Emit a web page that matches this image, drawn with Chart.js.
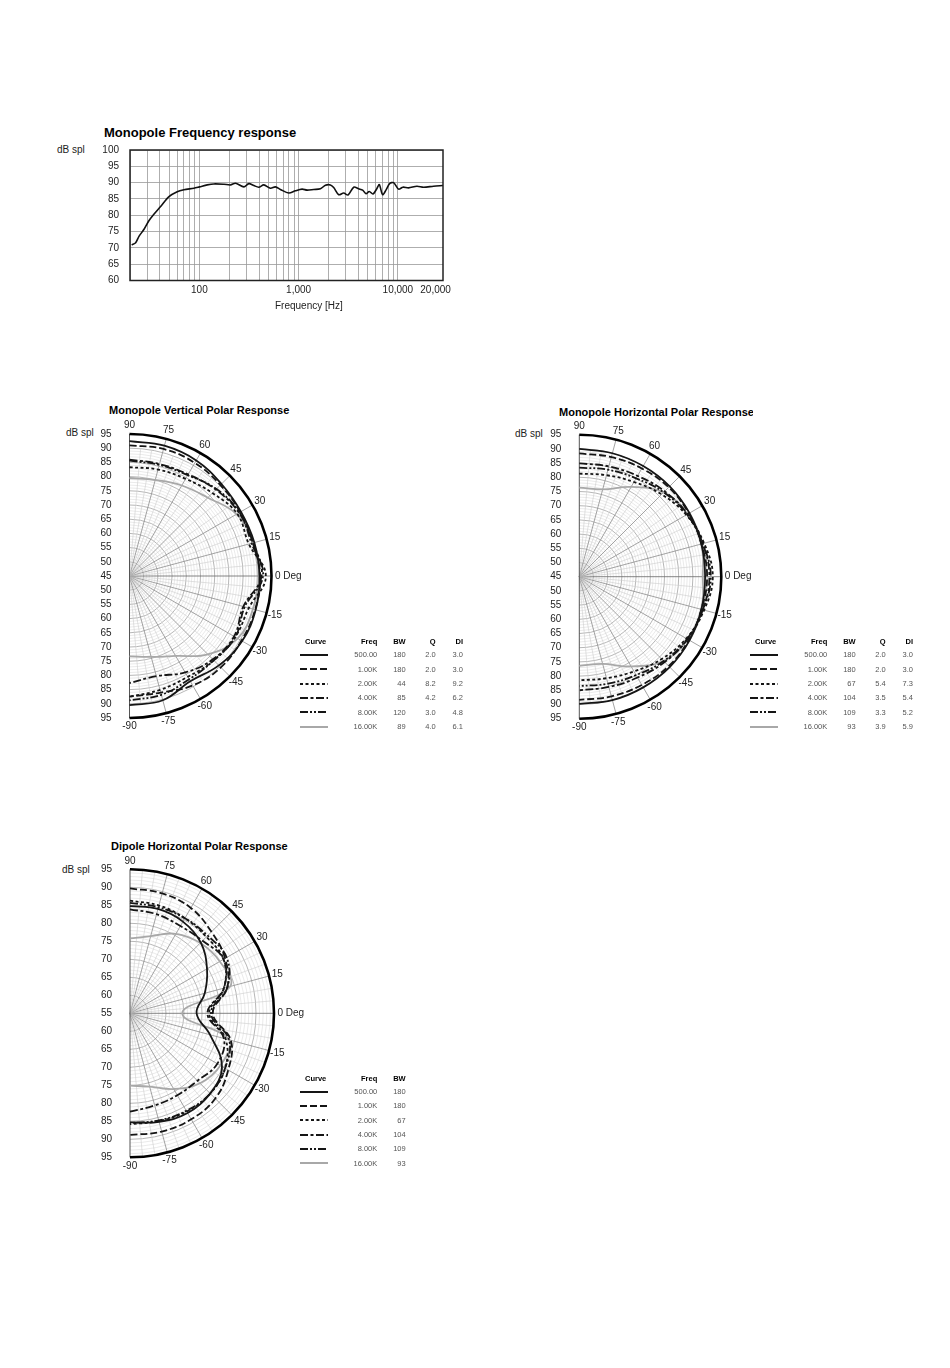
<!DOCTYPE html>
<html lang="en">
<head>
<meta charset="UTF-8">
<title>Monopole / Dipole Response</title>
<script src="https://cdn.jsdelivr.net/npm/chart.js"></script>
<style>
    body { margin: 0; background: #fff; font-family: 'Liberation Sans', Arial, sans-serif; color: #111; }
    .page { position: relative; width: 950px; height: 1368px; overflow: hidden; }
    .abs { position: absolute; white-space: nowrap; line-height: 1; }
    .title { font-weight: bold; font-size: 11px; color: #000; }
    .unit { font-size: 10px; color: #222; }
    canvas { position: absolute; }
    .lg-head { font-weight: bold; font-size: 7.5px; color: #000; }
    .lg-val { font-size: 7.5px; color: #555; }
</style>
</head>
<body>
<div class="page" id="page">
    <!-- frequency response -->
    <div class="abs title" style="left:104px;top:126px;font-size:13px">Monopole Frequency response</div>
    <div class="abs unit" style="left:57px;top:145px">dB spl</div>
    <canvas id="freqChart" width="420" height="187" style="left:50px;top:133px"></canvas>
    <div class="abs unit" style="left:275px;top:301px">Frequency [Hz]</div>

    <!-- vertical polar -->
    <div class="abs title" style="left:109px;top:405px">Monopole Vertical Polar Response</div>
    <div class="abs unit" style="left:66px;top:428px">dB spl</div>
    <canvas id="vertChart" width="255" height="325" style="left:55px;top:418px"></canvas>

    <!-- horizontal polar -->
    <div class="abs title" style="left:559px;top:407px;width:194px;overflow:hidden">Monopole Horizontal Polar Response</div>
    <div class="abs unit" style="left:515px;top:429px">dB spl</div>
    <canvas id="horzChart" width="255" height="325" style="left:505px;top:418px"></canvas>

    <!-- dipole polar -->
    <div class="abs title" style="left:111px;top:841px">Dipole Horizontal Polar Response</div>
    <div class="abs unit" style="left:62px;top:865px">dB spl</div>
    <canvas id="dipoleChart" width="255" height="327" style="left:55px;top:853px"></canvas>
</div>

<script>
    const FONT = "'Liberation Sans', Arial, sans-serif";

    // ---- frequency response data ----
    const freqHz = [20.8, 22.8, 24.7, 27.7, 31, 34.8, 40.7, 49.4, 59.8, 69.8,
        88, 100, 120, 140, 177, 206, 231, 281, 315, 354,
        397, 446, 520, 584, 656, 796, 929, 1084, 1217, 1420,
        1657, 1862, 2089, 2256, 2535, 2844, 3147, 3590, 4028, 4418,
        4775, 5154, 5612, 6152, 6498, 7019, 7584, 8260, 9059, 10170,
        11240, 12820, 15550, 18150, 22870, 28380];
    const splDb = [70.9, 71.6, 73.6, 75.7, 78.3, 80.3, 82.7, 85.7, 87.2, 87.8,
        88.3, 88.7, 89.3, 89.6, 89.5, 89.3, 89.8, 88.7, 89.7, 89.1,
        88.6, 89.3, 88.3, 88.7, 87.9, 86.8, 87.5, 88.0, 87.7, 87.9,
        88.1, 89.2, 89.3, 88.5, 86.3, 86.8, 86.2, 88.6, 88.1, 87.7,
        86.6, 87.3, 86.5, 88.2, 89.4, 86.3, 87.7, 89.7, 90.0, 88.0,
        88.6, 88.4, 88.9, 88.6, 88.9, 89.1];
    const freqGrid = [20, 30, 40, 50, 60, 70, 80, 90,
        100, 200, 300, 400, 500, 600, 700, 800, 900,
        1000, 2000, 3000, 4000, 5000, 6000, 7000, 8000, 9000, 10000];
    // the last label sits a little inside the right border in the original
    const freqTickValues = [100, 1000, 10000, 24000];
    const freqTickText = ['100', '1,000', '10,000', '20,000'];

    // ---- polar data (dB spl at each angle) ----
    const polarAngles = [90, 75, 60, 45, 30, 15, 0, -15, -30, -45, -60, -75, -90];
    const curveFreqs = ['500.00', '1.00K', '2.00K', '4.00K', '8.00K', '16.00K'];

    // monopole vertical
    const mv500 = [92.5, 92.5, 92.0, 90.8, 90.3, 90.5, 90.8, 91.0, 90.8, 89.5, 87.8, 90.3, 90.5];
    const mv1k  = [91.0, 91.3, 91.0, 90.3, 90.0, 90.0, 91.0, 90.8, 90.5, 90.5, 89.5, 87.5, 87.5];
    const mv2k  = [83.3, 83.8, 84.5, 86.3, 88.8, 88.5, 93.0, 88.5, 88.0, 87.0, 86.0, 86.5, 87.5];
    const mv4k  = [86.0, 85.8, 86.3, 88.0, 89.5, 90.0, 91.5, 86.5, 87.5, 86.5, 84.2, 81.5, 82.7];
    const mv8k  = [85.6, 85.5, 86.0, 88.3, 89.7, 89.5, 92.0, 87.0, 88.0, 87.0, 87.0, 88.3, 88.8];
    const mv16k = [79.5, 80.0, 81.8, 84.0, 88.5, 90.0, 90.5, 90.0, 89.0, 84.0, 77.5, 74.5, 73.3];
    const vertBW = [180, 180, 44, 85, 120, 89];
    const vertQ  = [2.0, 2.0, 8.2, 4.2, 3.0, 4.0];
    const vertDI = [3.0, 3.0, 9.2, 6.2, 4.8, 6.1];

    // monopole horizontal
    const mh500 = [90.0, 90.0, 90.0, 90.0, 89.8, 89.5, 89.3, 89.5, 89.8, 90.0, 90.0, 90.0, 89.8];
    const mh1k  = [88.4, 88.6, 89.0, 89.5, 89.5, 89.5, 90.0, 89.5, 89.5, 89.5, 89.0, 88.6, 88.4];
    const mh2k  = [81.3, 82.0, 83.5, 86.0, 88.5, 90.5, 92.0, 90.5, 88.5, 86.0, 83.5, 82.0, 81.5];
    const mh4k  = [84.9, 85.2, 86.0, 87.5, 89.0, 90.0, 90.8, 90.0, 89.0, 87.5, 86.0, 85.2, 85.0];
    const mh8k  = [83.4, 84.0, 85.0, 87.0, 88.8, 90.0, 91.3, 90.0, 88.8, 87.0, 85.0, 84.0, 83.5];
    const mh16k = [76.4, 76.8, 81.5, 87.0, 89.0, 89.5, 88.5, 89.5, 89.0, 87.0, 81.5, 76.8, 76.4];
    const horzBW = [180, 180, 67, 104, 109, 93];
    const horzQ  = [2.0, 2.0, 5.4, 3.5, 3.3, 3.9];
    const horzDI = [3.0, 3.0, 7.3, 5.4, 5.2, 5.9];

    // dipole horizontal
    const dp500 = [84.8, 85.0, 84.4, 82.8, 79.7, 76.5, 73.5, 78.0, 84.5, 86.5, 87.0, 86.2, 85.3];
    const dp1k  = [89.7, 89.5, 88.8, 87.0, 85.5, 83.0, 78.0, 84.0, 86.5, 88.5, 89.0, 89.0, 88.8];
    const dp2k  = [86.3, 86.0, 85.5, 85.0, 85.0, 82.0, 77.0, 82.5, 85.5, 86.5, 86.5, 86.0, 85.8];
    const dp4k  = [83.9, 83.5, 83.0, 83.5, 85.0, 82.0, 76.5, 82.0, 83.0, 81.5, 81.3, 81.5, 82.3];
    const dp8k  = [85.7, 85.5, 85.5, 85.5, 86.0, 83.0, 77.5, 83.5, 85.5, 86.5, 86.3, 85.8, 85.5];
    const dp16k = [75.8, 77.2, 80.5, 82.6, 83.8, 83.8, 69.5, 83.5, 84.0, 82.5, 79.3, 76.1, 75.1];
    const dipoleBW = [180, 180, 67, 104, 109, 93];

    // curve styles
    const curveColors = ['#151515', '#151515', '#151515', '#151515', '#151515', '#a8a8a8'];
    const curveDashes = [[], [7, 3], [3, 2.5], [8, 2.5, 3, 2.5], [8, 2, 2, 2, 2, 2], []];

    // frame around the frequency plot
    const frame = {
        id: 'frame',
        beforeDatasetsDraw(chart) {
            const { ctx, chartArea: a } = chart;
            ctx.save();
            ctx.strokeStyle = '#222';
            ctx.lineWidth = 1.5;
            ctx.strokeRect(a.left, a.top, a.right - a.left, a.bottom - a.top);
            ctx.restore();
        }
    };

    new Chart(document.getElementById('freqChart'), {
        type: 'scatter',
        data: {
            datasets: [{
                data: freqHz.map((f, i) => ({ x: f, y: splDb[i] })),
                showLine: true, borderColor: '#111', borderWidth: 1.6,
                pointRadius: 0, tension: 0.3
            }]
        },
        options: {
            responsive: false,
            animation: false,
            layout: { padding: { left: 50, top: 17, right: 27, bottom: 0 } },
            plugins: { legend: { display: false }, tooltip: { enabled: false } },
            scales: {
                x: {
                    type: 'logarithmic', min: 20, max: 28500,
                    afterBuildTicks: s => { s.ticks = freqGrid.concat([24000]).map(v => ({ value: v })); },
                    afterFit: s => { s.height = 39.5; },
                    grid: {
                        color: c => (c.tick && c.tick.value === 24000) ? 'rgba(0,0,0,0)' : '#999',
                        lineWidth: 0.8, drawTicks: false
                    },
                    border: { display: false },
                    ticks: {
                        autoSkip: false, maxRotation: 0, minRotation: 0, padding: 4,
                        color: '#222', font: { size: 10, family: FONT },
                        callback: v => {
                            const i = freqTickValues.indexOf(v);
                            return i < 0 ? '' : freqTickText[i];
                        }
                    }
                },
                y: {
                    min: 60, max: 100,
                    afterFit: s => { s.width = 30; },
                    grid: { color: '#999', lineWidth: 0.8, drawTicks: false },
                    border: { display: false },
                    ticks: { stepSize: 5, padding: 11, color: '#222', font: { size: 10, family: FONT } }
                }
            }
        },
        plugins: [frame]
    });

    // half-circle polar grid drawn behind the curves
    const polarGrid = {
        id: 'polarGrid',
        beforeDatasetsDraw(chart, args, o) {
            const { ctx, scales: { x, y } } = chart;
            const cx = x.getPixelForValue(0), cy = y.getPixelForValue(0);
            const k = x.getPixelForValue(1) - cx;
            const R = o.span * k;
            const gTop = (o.gridTop - o.rMin) * k;
            ctx.save();
            // rings every 1 dB, darker every 5 dB
            for (let d = 1; d <= o.gridTop - o.rMin; d++) {
                const major = (d + o.rMin) % 5 === 0;
                ctx.beginPath();
                ctx.arc(cx, cy, d * k, -Math.PI / 2, Math.PI / 2);
                ctx.strokeStyle = major ? '#a5a5a5' : '#dcdcdc';
                ctx.lineWidth = major ? 0.8 : 0.6;
                ctx.stroke();
            }
            // spokes every 5 deg, darker every 15 deg
            for (let a = -85; a <= 85; a += 5) {
                const t = -a * Math.PI / 180;
                const major = a % 15 === 0;
                const len = major ? R : gTop;
                ctx.beginPath();
                ctx.moveTo(cx, cy);
                ctx.lineTo(cx + len * Math.cos(t), cy + len * Math.sin(t));
                ctx.strokeStyle = a === 0 ? '#666' : (major ? '#8c8c8c' : '#cdcdcd');
                ctx.lineWidth = major ? 0.8 : 0.6;
                ctx.stroke();
            }
            // left axis
            ctx.beginPath();
            ctx.moveTo(cx, cy - R);
            ctx.lineTo(cx, cy + R);
            ctx.strokeStyle = '#555';
            ctx.lineWidth = 1;
            ctx.stroke();
            // outer rim
            ctx.beginPath();
            ctx.arc(cx, cy, R, -Math.PI / 2, Math.PI / 2);
            ctx.strokeStyle = '#000';
            ctx.lineWidth = 2.6;
            ctx.stroke();
            // angle labels
            ctx.fillStyle = '#222';
            ctx.font = '10px ' + FONT;
            ctx.textBaseline = 'middle';
            polarAngles.forEach(a => {
                const t = -a * Math.PI / 180;
                if (a === 0) {
                    ctx.textAlign = 'left';
                    ctx.fillText('0 Deg', cx + R + 3.5, cy);
                } else {
                    ctx.textAlign = 'center';
                    const r = R + 8.5;
                    ctx.fillText(String(a), cx + r * Math.cos(t), cy + r * Math.sin(t));
                }
            });
            ctx.restore();
        }
    };

    function polarChart(id, cx, cy, R, rMin, rMax, gridTop, dbSeries) {
        const cv = document.getElementById(id);
        const span = rMax - rMin;
        const rad = Math.PI / 180;
        new Chart(cv, {
            type: 'scatter',
            data: {
                datasets: dbSeries.map((db, s) => ({
                    data: polarAngles.map((a, i) => ({
                        x: (db[i] - rMin) * Math.cos(a * rad),
                        y: (db[i] - rMin) * Math.sin(a * rad)
                    })),
                    showLine: true,
                    borderColor: curveColors[s],
                    borderWidth: 1.8,
                    borderDash: curveDashes[s],
                    pointRadius: 0,
                    tension: 0.4,
                    clip: false
                }))
            },
            options: {
                responsive: false,
                animation: false,
                layout: { padding: { left: cx - 30, top: cy - R, right: cv.width - cx - R, bottom: cv.height - cy - R } },
                plugins: {
                    legend: { display: false },
                    tooltip: { enabled: false },
                    polarGrid: { rMin: rMin, span: span, gridTop: gridTop }
                },
                scales: {
                    x: { display: false, min: 0, max: span },
                    y: {
                        min: -span, max: span,
                        afterFit: sc => { sc.width = 30; },
                        grid: { display: false },
                        border: { display: false },
                        ticks: {
                            stepSize: 5, autoSkip: false, padding: 10,
                            color: '#222', font: { size: 10, family: FONT },
                            callback: v => Math.abs(v) + rMin
                        }
                    }
                }
            },
            plugins: [polarGrid]
        });
    }

    polarChart('vertChart', 74.5, 158, 142, 45, 95, 90, [mv500, mv1k, mv2k, mv4k, mv8k, mv16k]);
    polarChart('horzChart', 74.3, 158.7, 142, 45, 95, 90, [mh500, mh1k, mh2k, mh4k, mh8k, mh16k]);
    polarChart('dipoleChart', 75, 160.3, 144, 55, 95, 95, [dp500, dp1k, dp2k, dp4k, dp8k, dp16k]);

    // legend tables (HTML text)
    function legendTable(x0, yHead, bw, q, di) {
        const page = document.getElementById('page');
        const put = (text, cls, left, cy, w) => {
            const d = document.createElement('div');
            d.className = 'abs ' + cls;
            d.style.left = left + 'px';
            d.style.top = (cy - 3.7) + 'px';
            if (w) { d.style.width = w + 'px'; d.style.textAlign = 'right'; }
            d.textContent = text;
            page.appendChild(d);
        };
        const rowY = i => yHead + 13.5 + 14.3 * i;
        put('Curve', 'lg-head', x0 + 5, yHead);
        const cols = [['Freq', curveFreqs, 77.3], ['BW', bw, 105.7]];
        if (q) cols.push(['Q', q.map(v => v.toFixed(1)), 135.7]);
        if (di) cols.push(['DI', di.map(v => v.toFixed(1)), 163]);
        cols.forEach(([h, vals, r]) => {
            put(h, 'lg-head', x0 + r - 40, yHead, 40);
            vals.forEach((v, i) => put(String(v), 'lg-val', x0 + r - 40, rowY(i), 40));
        });
        curveDashes.forEach((d, i) => {
            const s = document.createElement('div');
            s.className = 'abs';
            s.style.left = x0 + 'px';
            s.style.top = (rowY(i) - 2) + 'px';
            s.innerHTML = '<svg width="28" height="4" style="display:block"><line x1="0" y1="2" x2="28" y2="2" stroke="' +
                curveColors[i] + '" stroke-width="2"' + (d.length ? ' stroke-dasharray="' + d.join(' ') + '"' : '') + '/></svg>';
            page.appendChild(s);
        });
    }

    legendTable(300, 641.5, vertBW, vertQ, vertDI);
    legendTable(750, 641.5, horzBW, horzQ, horzDI);
    legendTable(300, 1078.3, dipoleBW, null, null);
</script>
</body>
</html>
